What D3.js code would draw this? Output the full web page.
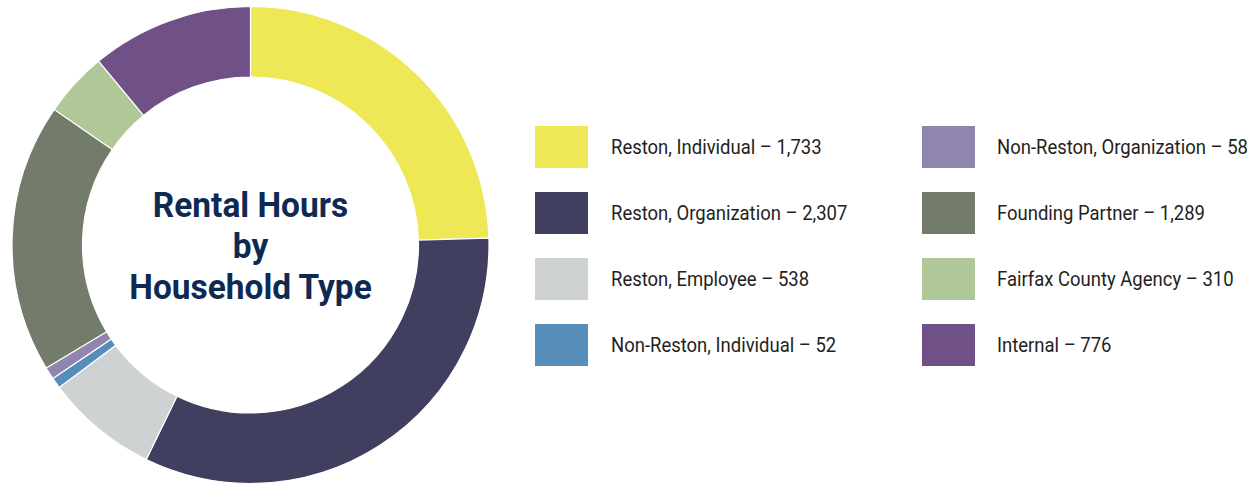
<!DOCTYPE html>
<html>
<head>
<meta charset="utf-8">
<script src="https://cdn.jsdelivr.net/npm/d3@7"></script>
<style>
  body { margin: 0; background: #fff; }
  svg { display: block; }
</style>
</head>
<body>
<div id="chart"></div>
<script>
// data
var categories = ["Reston, Individual", "Reston, Organization", "Reston, Employee",
  "Non-Reston, Individual", "Non-Reston, Organization", "Founding Partner",
  "Fairfax County Agency", "Internal"];
var hours = [1733, 2307, 538, 52, 58, 1289, 310, 776];
var colors = ["#EEE856", "#413F60", "#CFD2D3", "#568EB9", "#9085AE", "#737B6A", "#B0C897", "#6F5188"];
var titleLines = ["Rental Hours", "by", "Household Type"];

var svgWidth = 1251;
var svgHeight = 485;

var svg = d3.select("#chart")
  .append("svg")
  .attr("width", svgWidth)
  .attr("height", svgHeight);

var data = categories.map(function(c, i) {
  return { name: c, value: hours[i] };
});

var color = d3.scaleOrdinal().domain(categories).range(colors);

// donut
var cx = 250.5, cy = 245, outerR = 238.5, innerR = 168;

var pie = d3.pie().sort(null).value(d => d.value);
var arc = d3.arc().innerRadius(innerR).outerRadius(outerR);

var donut = svg.append("g")
  .attr("transform", `translate(${cx}, ${cy})`);

donut.selectAll("path")
  .data(pie(data))
  .enter()
  .append("path")
  .attr("d", arc)
  .attr("fill", d => color(d.data.name))
  .attr("stroke", "#fff")
  .attr("stroke-width", 1.2);

// title in the hole (no condensed font here, so squeeze it a bit)
donut.append("g")
  .attr("transform", "scale(0.93, 1)")
  .selectAll("text")
  .data(titleLines)
  .enter()
  .append("text")
  .attr("x", 0)
  .attr("y", (d, i) => -28 + i * 41)
  .attr("text-anchor", "middle")
  .attr("font-family", "Roboto, sans-serif")
  .attr("font-weight", "bold")
  .attr("font-size", 36)
  .attr("fill", "#0E2A52")
  .text(d => d);

// legend, two columns of four
var fmt = d3.format(",");
var colX = [535, 922];
var rowY = d3.scaleLinear().domain([0, 3]).range([126, 324]);

var legend = svg.append("g").selectAll("g")
  .data(data)
  .enter()
  .append("g")
  .attr("transform", (d, i) => `translate(${colX[Math.floor(i / 4)]}, ${rowY(i % 4)})`);

legend.append("rect")
  .attr("width", 53)
  .attr("height", 42)
  .attr("fill", d => color(d.name));

legend.append("g")
  .attr("transform", (d, i) => `translate(${i < 4 ? 76 : 75}, 21) scale(0.88, 1)`)
  .append("text")
  .attr("dy", "0.35em")
  .attr("font-family", "Roboto, sans-serif")
  .attr("font-size", 21)
  .attr("fill", "#231F20")
  .text(d => `${d.name} \u2013 ${fmt(d.value)}`);
</script>
</body>
</html>
